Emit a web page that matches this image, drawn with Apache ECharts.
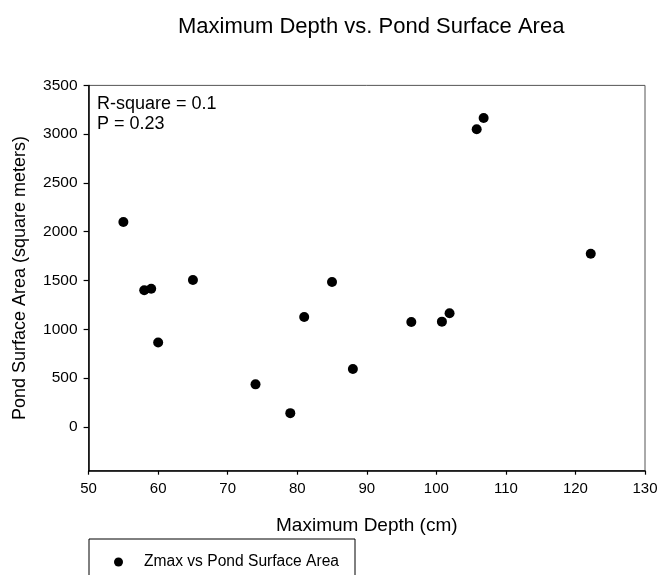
<!DOCTYPE html>
<html>
<head>
<meta charset="utf-8">
<script src="https://cdn.jsdelivr.net/npm/echarts@6/dist/echarts.min.js"></script>
<style>
  html, body { margin: 0; padding: 0; background: #fff; }
  #chart { width: 661px; height: 575px; }
</style>
</head>
<body>
<div id="chart"></div>
<script>
// Maximum pond depth (cm) and pond surface area (m²), one entry per pond
const maxDepth = [55, 58, 59, 60, 65, 74, 79, 81, 85, 88, 96.4, 100.8, 101.9, 105.8, 106.8, 122.2];
const surfaceArea = [2100, 1400, 1415, 865, 1505, 435, 140, 1125, 1485, 592, 1075, 1078, 1164, 3050, 3165, 1775];

// Labelled ticks on the area axis (the axis itself runs a little below zero)
const areaTicks = [0, 500, 1000, 1500, 2000, 2500, 3000, 3500];

const seriesName = 'Zmax vs Pond Surface Area';
const statLines = ['R-square = 0.1', 'P = 0.23'];

const FONT = '"Liberation Sans", Arial, Helvetica, sans-serif';

const chart = echarts.init(document.getElementById('chart'), null, { renderer: 'canvas' });

chart.setOption({
  animation: false,
  backgroundColor: '#fff',
  title: {
    text: 'Maximum Depth vs. Pond Surface Area',
    left: 173,
    top: 11,
    textStyle: { fontFamily: FONT, fontSize: 22, fontWeight: 'normal', color: '#000' }
  },
  grid: {
    left: 88.6, right: 16, top: 85.4, bottom: 104.3,
    containLabel: false,
    outerBoundsMode: 'none',
    show: true, borderColor: '#555', borderWidth: 1, backgroundColor: 'transparent'
  },
  xAxis: {
    type: 'value',
    min: 50, max: 130, interval: 10,
    name: 'Maximum Depth (cm)',
    nameLocation: 'middle',
    nameGap: 46,
    nameTextStyle: { fontFamily: FONT, fontSize: 19, color: '#000' },
    axisLine: { show: true, onZero: false, lineStyle: { color: '#000', width: 1.5 } },
    axisTick: { show: true, inside: false, length: 4, lineStyle: { color: '#000', width: 1.2 } },
    axisLabel: { fontFamily: FONT, fontSize: 15, color: '#000', margin: 11 },
    splitLine: { show: false }
  },
  yAxis: {
    type: 'value',
    min: -450, max: 3500,
    name: 'Pond Surface Area (square meters)',
    nameLocation: 'middle',
    nameGap: 60,
    nameTextStyle: { fontFamily: FONT, fontSize: 18, color: '#000' },
    axisLine: { show: true, onZero: false, lineStyle: { color: '#000', width: 1.5 } },
    axisTick: { show: true, inside: false, length: 5, customValues: areaTicks, lineStyle: { color: '#000', width: 1.2 } },
    axisLabel: {
      fontFamily: FONT, fontSize: 15.5, color: '#000', margin: 11,
      customValues: areaTicks,
      formatter: (v) => String(v)
    },
    splitLine: { show: false }
  },
  legend: {
    orient: 'vertical',
    left: 89,
    top: 539,
    data: [seriesName],
    icon: 'circle',
    itemWidth: 9,
    itemHeight: 9,
    borderColor: '#000',
    borderWidth: 1,
    borderRadius: 0,
    padding: [15, 16, 20, 25],
    textStyle: { fontFamily: FONT, fontSize: 15.6, color: '#000', padding: [0, 0, 0, 16] }
  },
  graphic: [
    {
      type: 'text',
      left: 97,
      top: 94,
      style: {
        text: statLines.join('\n'),
        font: '18px ' + FONT,
        fill: '#000',
        lineHeight: 20
      }
    }
  ],
  series: [
    {
      name: seriesName,
      type: 'scatter',
      symbol: 'circle',
      symbolSize: 10,
      itemStyle: { color: '#000', opacity: 1 },
      data: maxDepth.map((d, i) => [d, surfaceArea[i]])
    }
  ]
});
</script>
</body>
</html>
